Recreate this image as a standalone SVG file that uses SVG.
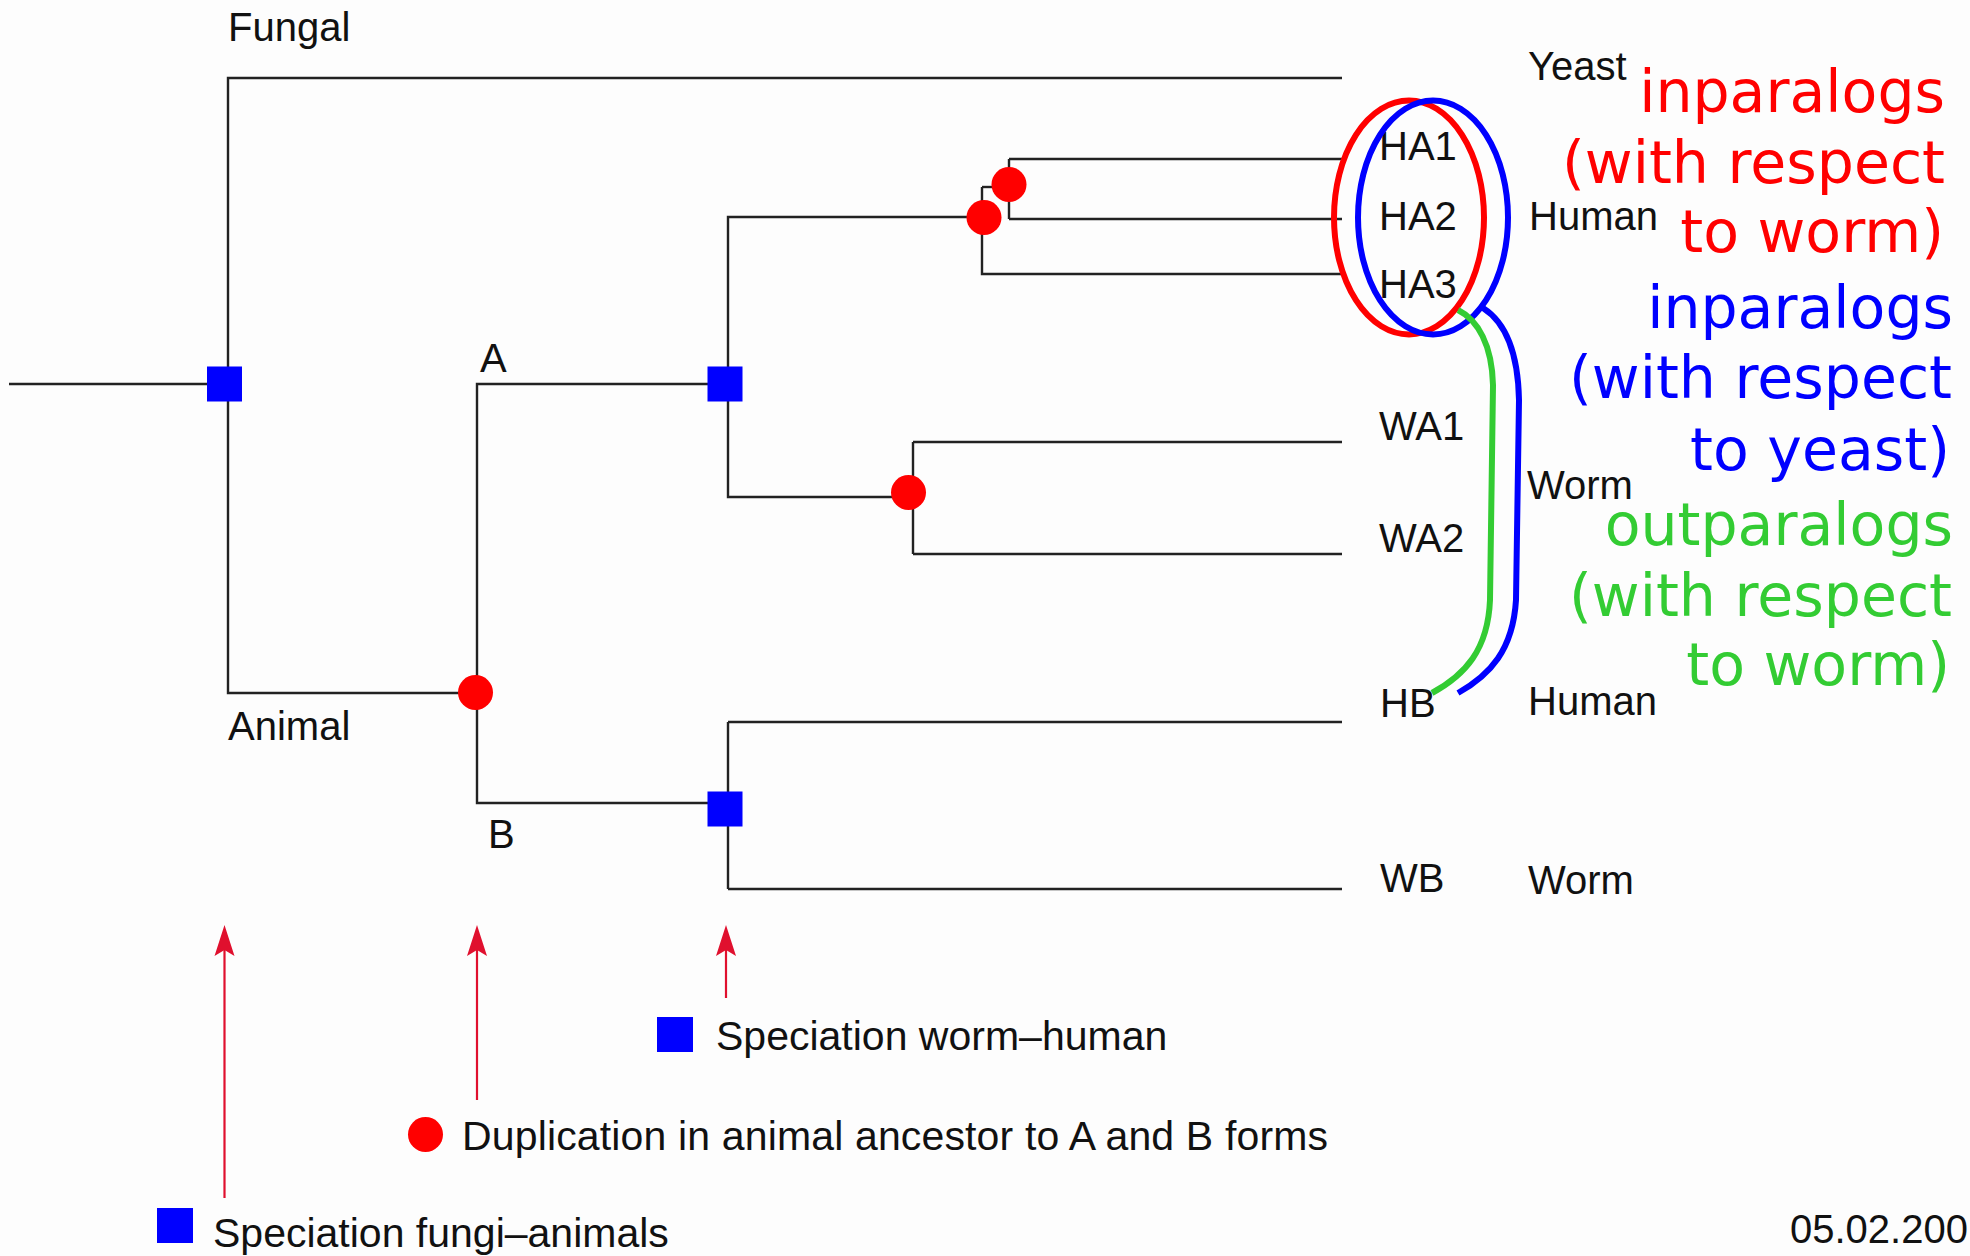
<svg xmlns="http://www.w3.org/2000/svg" width="1970" height="1256" viewBox="0 0 1970 1256">
  <defs>
    <style>
      .branch { fill: none; stroke: #222; stroke-width: 2.4; }
      .spec { fill: #0000ff; }
      .dup { fill: #ff0000; }
      .lbl { font-family: "Liberation Sans", Arial, sans-serif; font-size: 40px; fill: #111; }
      .leg { font-family: "Liberation Sans", Arial, sans-serif; font-size: 41px; fill: #111; }
      .big { font-family: "DejaVu Sans", Verdana, sans-serif; font-size: 58.5px; text-anchor: end; }
      .pointer { fill: none; stroke: #e0102e; stroke-width: 2.2; marker-end: url(#head); }
    </style>
    <marker id="head" markerUnits="userSpaceOnUse" viewBox="-32 -11 44 22" refX="-10" refY="0" markerWidth="44" markerHeight="22" orient="auto">
      <path d="M0,0 L-31,-10 L-25,0 L-31,10 Z" fill="#e0102e"/>
    </marker>
  </defs>

  <rect x="0" y="0" width="1970" height="1256" fill="#fdfdfd"/>

  <!-- tree branches -->
  <g id="connectors">
    <path class="branch" d="M9,384 H228"/>
    <path class="branch" d="M1342,78 H228 V693 H476"/>
    <path class="branch" d="M728,384 H477 V803 H708"/>
    <path class="branch" d="M728,384 V217 H984"/>
    <path class="branch" d="M982,187 V274 H1342"/>
    <path class="branch" d="M982,187 H1009"/>
    <path class="branch" d="M1009,159 V219"/>
    <path class="branch" d="M1009,159 H1342"/>
    <path class="branch" d="M1009,219 H1342"/>
    <path class="branch" d="M728,384 V497 H910"/>
    <path class="branch" d="M913,442 V554"/>
    <path class="branch" d="M913,442 H1342"/>
    <path class="branch" d="M913,554 H1342"/>
    <path class="branch" d="M728,722 V889"/>
    <path class="branch" d="M728,722 H1342"/>
    <path class="branch" d="M728,889 H1342"/>
    <!-- pointers from the legend up to the events -->
    <path class="pointer" d="M224.5,1198 V935"/>
    <path class="pointer" d="M477,1100 V935"/>
    <path class="pointer" d="M726,998 V935"/>
  </g>

  <!-- speciation events -->
  <g id="spec-fungi-animal"><rect class="spec" x="207" y="366.5" width="35" height="35"/></g>
  <g id="spec-worm-human-A"><rect class="spec" x="707.5" y="366.5" width="35" height="35"/></g>
  <g id="spec-worm-human-B"><rect class="spec" x="707.5" y="791.5" width="35" height="35"/></g>

  <!-- duplication events -->
  <g id="dup-AB"><circle class="dup" cx="475.5" cy="692.5" r="17.5"/></g>
  <g id="dup-WA"><circle class="dup" cx="908.5" cy="492.5" r="17.5"/></g>
  <g id="dup-HA-outer"><circle class="dup" cx="984" cy="217.5" r="17.5"/></g>
  <g id="dup-HA-inner"><circle class="dup" cx="1009" cy="184.5" r="17.5"/></g>

  <!-- clade labels -->
  <g id="clade-labels">
    <text class="lbl" x="228" y="41">Fungal</text>
    <text class="lbl" x="480" y="372">A</text>
    <text class="lbl" x="228" y="740">Animal</text>
    <text class="lbl" x="488" y="848">B</text>
  </g>

  <!-- leaves -->
  <g id="leaf-yeast"><text class="lbl" x="1528" y="80">Yeast</text></g>
  <g id="leaf-HA1"><text class="lbl" x="1379" y="160">HA1</text></g>
  <g id="leaf-HA2"><text class="lbl" x="1379" y="230">HA2</text></g>
  <g id="leaf-HA3"><text class="lbl" x="1379" y="298">HA3</text></g>
  <g id="species-human-A"><text class="lbl" x="1529" y="230">Human</text></g>
  <g id="leaf-WA1"><text class="lbl" x="1379" y="440">WA1</text></g>
  <g id="leaf-WA2"><text class="lbl" x="1379" y="552">WA2</text></g>
  <g id="species-worm-A"><text class="lbl" x="1527" y="499">Worm</text></g>
  <g id="leaf-HB"><text class="lbl" x="1380" y="717">HB</text></g>
  <g id="species-human-B"><text class="lbl" x="1528" y="715">Human</text></g>
  <g id="leaf-WB"><text class="lbl" x="1380" y="892">WB</text></g>
  <g id="species-worm-B"><text class="lbl" x="1528" y="894">Worm</text></g>

  <!-- paralog groupings -->
  <g id="inparalogs-worm">
    <ellipse cx="1409" cy="217.5" rx="75" ry="117" fill="none" stroke="#ff0000" stroke-width="6"/>
    <text class="big" fill="#ff0000" x="1945" y="112">inparalogs</text>
    <text class="big" fill="#ff0000" x="1945" y="183">(with respect</text>
    <text class="big" fill="#ff0000" x="1944" y="252">to worm)</text>
  </g>
  <g id="inparalogs-yeast">
    <ellipse cx="1433" cy="217.5" rx="75" ry="117" fill="none" stroke="#0000ff" stroke-width="6"/>
    <path d="M1483,308 C1505,322 1518,350 1519,400 L1516,600 C1513,650 1490,675 1458,693" fill="none" stroke="#0000ff" stroke-width="6"/>
    <text class="big" fill="#0000ff" x="1953" y="328">inparalogs</text>
    <text class="big" fill="#0000ff" x="1952" y="398">(with respect</text>
    <text class="big" fill="#0000ff" x="1950" y="470">to yeast)</text>
  </g>
  <g id="outparalogs-worm">
    <path d="M1458,310 C1478,320 1492,345 1493,385 L1490,600 C1488,650 1465,675 1432,693" fill="none" stroke="#33cc33" stroke-width="6"/>
    <text class="big" fill="#33cc33" x="1953" y="545">outparalogs</text>
    <text class="big" fill="#33cc33" x="1952" y="616">(with respect</text>
    <text class="big" fill="#33cc33" x="1950" y="685">to worm)</text>
  </g>

  <!-- legend -->
  <g id="legend-worm-human">
    <rect class="spec" x="657" y="1017" width="36" height="35"/>
    <text class="leg" x="716" y="1050">Speciation worm–human</text>
  </g>
  <g id="legend-duplication">
    <circle class="dup" cx="425.5" cy="1134.5" r="17.5"/>
    <text class="leg" x="462" y="1150" textLength="866">Duplication in animal ancestor to A and B forms</text>
  </g>
  <g id="legend-fungi-animals">
    <rect class="spec" x="157" y="1208" width="36" height="35"/>
    <text class="leg" x="213" y="1247">Speciation fungi–animals</text>
  </g>

  <g id="date"><text class="leg" x="1790" y="1243" style="font-size:40px">05.02.200</text></g>
</svg>
